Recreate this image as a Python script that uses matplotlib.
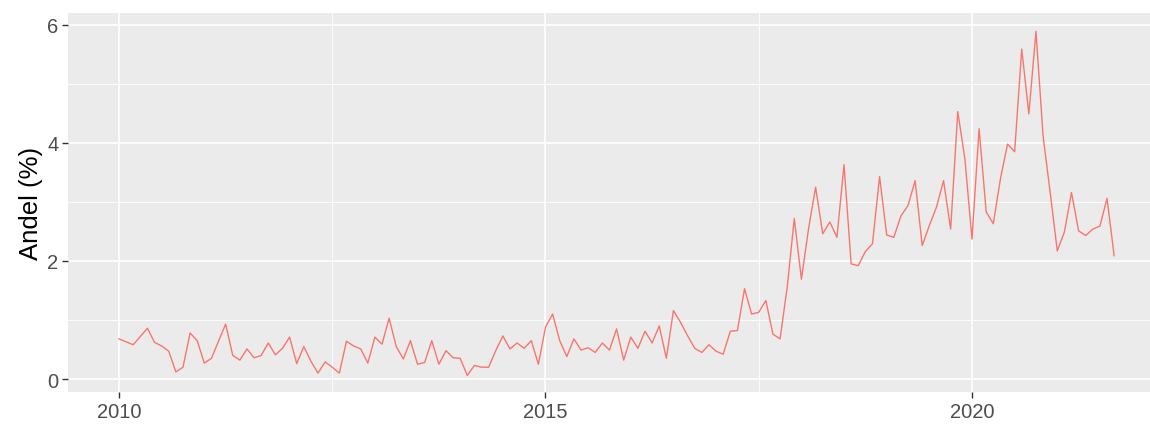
import numpy as np
import matplotlib
matplotlib.use("Agg")
from matplotlib import pyplot as plt

plt.rcParams['font.family'] = ['Liberation Sans', 'DejaVu Sans']

# monthly share, Jan 2010 - Sep 2021
andel = [0.68, 0.63, 0.58, 0.72, 0.86, 0.62, 0.56, 0.47, 0.12, 0.20, 0.78, 0.65,
         0.27, 0.35, 0.64, 0.93, 0.40, 0.32, 0.51, 0.36, 0.40, 0.61, 0.41, 0.52,
         0.71, 0.26, 0.55, 0.30, 0.10, 0.29, 0.20, 0.10, 0.64, 0.56, 0.51, 0.27,
         0.71, 0.59, 1.03, 0.55, 0.34, 0.65, 0.25, 0.28, 0.65, 0.25, 0.48, 0.36,
         0.35, 0.06, 0.23, 0.20, 0.20, 0.48, 0.73, 0.51, 0.61, 0.52, 0.65, 0.25,
         0.88, 1.10, 0.65, 0.38, 0.68, 0.49, 0.53, 0.45, 0.61, 0.49, 0.85, 0.32,
         0.71, 0.52, 0.81, 0.61, 0.90, 0.35, 1.16, 0.96, 0.73, 0.52, 0.45, 0.58,
         0.47, 0.42, 0.81, 0.82, 1.53, 1.10, 1.13, 1.33, 0.76, 0.68, 1.55, 2.72,
         1.69, 2.54, 3.25, 2.46, 2.66, 2.40, 3.63, 1.95, 1.92, 2.16, 2.29, 3.43,
         2.44, 2.40, 2.76, 2.94, 3.36, 2.26, 2.60, 2.91, 3.36, 2.54, 4.53, 3.73,
         2.37, 4.24, 2.83, 2.63, 3.39, 3.98, 3.85, 5.59, 4.49, 5.89, 4.12, 3.16,
         2.17, 2.49, 3.16, 2.51, 2.43, 2.54, 2.59, 3.06, 2.09]
start_year = 2010
tid = start_year + np.arange(len(andel)) / 12

x_ticks = [2010, 2015, 2020]
y_ticks = [0, 2, 4, 6]

fig = plt.figure(figsize=(11.5, 4.27), dpi=100)
ax = fig.add_axes([68 / 1150, 1 - 393 / 427, 1 - 68 / 1150, 379 / 427])
ax.set_facecolor("#EBEBEB")

ax.plot(tid, andel, color="#F8766D", lw=1.0, zorder=3)

ax.set_xlim(2009.402, 2022.087)
ax.set_ylim(-0.22, 6.2)
ax.set_xticks(x_ticks)
ax.set_xticklabels([str(t) for t in x_ticks])
ax.set_yticks(y_ticks)
ax.set_xticks([2012.5, 2017.5], minor=True)
ax.set_yticks([1, 3, 5], minor=True)

ax.grid(which="major", color="white", lw=1.2)
ax.grid(which="minor", color="white", lw=0.6)
ax.set_axisbelow(True)
for s in ax.spines.values():
    s.set_visible(False)

ax.tick_params(which="major", length=4, width=1, color="#333333",
               labelsize=14.5, labelcolor="#4D4D4D", pad=3)
ax.tick_params(which="minor", length=0)
ax.set_ylabel("Andel (%)", fontsize=18.5, color="black", labelpad=3)

fig.savefig("out.png", dpi=100)
